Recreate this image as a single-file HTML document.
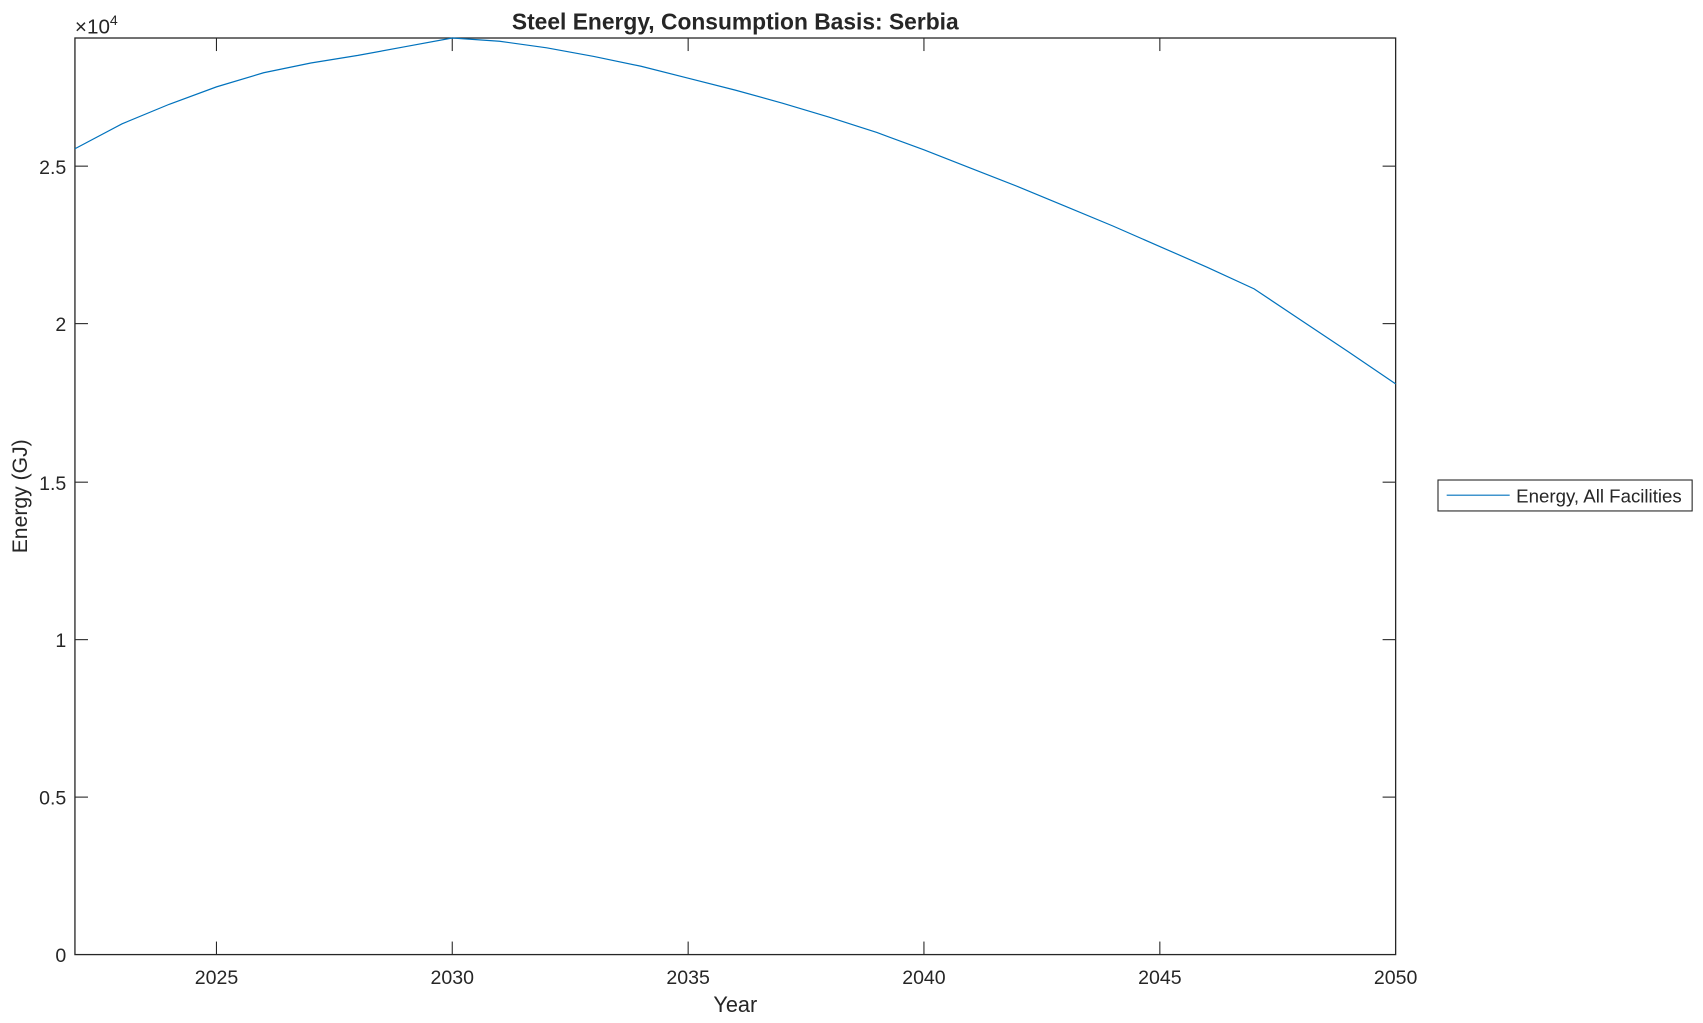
<!DOCTYPE html>
<html><head><meta charset="utf-8"><style>
html,body{margin:0;padding:0;background:#fff;}
svg{display:block;}
text{font-family:"Liberation Sans",Arial,sans-serif;fill:#262626;}
</style></head><body>
<svg width="1703" height="1023" viewBox="0 0 1568 942" preserveAspectRatio="none" xmlns="http://www.w3.org/2000/svg">
<rect width="1568" height="942" fill="#fff"/>
<rect x="69" y="35" width="1216" height="844" fill="#fff" stroke="#262626" stroke-width="1.2"/>
<g stroke="#262626" stroke-width="1">
<line x1="199.3" y1="879" x2="199.3" y2="867"/><line x1="199.3" y1="35" x2="199.3" y2="47"/>
<line x1="416.4" y1="879" x2="416.4" y2="867"/><line x1="416.4" y1="35" x2="416.4" y2="47"/>
<line x1="633.6" y1="879" x2="633.6" y2="867"/><line x1="633.6" y1="35" x2="633.6" y2="47"/>
<line x1="850.7" y1="879" x2="850.7" y2="867"/><line x1="850.7" y1="35" x2="850.7" y2="47"/>
<line x1="1067.9" y1="879" x2="1067.9" y2="867"/><line x1="1067.9" y1="35" x2="1067.9" y2="47"/>
<line x1="69" y1="734" x2="81" y2="734"/><line x1="1285" y1="734" x2="1273" y2="734"/>
<line x1="69" y1="589" x2="81" y2="589"/><line x1="1285" y1="589" x2="1273" y2="589"/>
<line x1="69" y1="444" x2="81" y2="444"/><line x1="1285" y1="444" x2="1273" y2="444"/>
<line x1="69" y1="298" x2="81" y2="298"/><line x1="1285" y1="298" x2="1273" y2="298"/>
<line x1="69" y1="153" x2="81" y2="153"/><line x1="1285" y1="153" x2="1273" y2="153"/>
</g>
<polyline fill="none" stroke="#0072bd" stroke-width="1.1" points="69,137 112.4,114 155.9,96 199.3,80 242.7,67 286.2,58 329.6,51 373,43 416.4,35 459.9,38 503.3,44 546.7,52 590.2,61 633.6,72 677,83 720.4,95 763.9,108 807.3,122 850.7,138 894.1,155 937.6,172 981,190 1024.4,208 1067.9,227 1111.3,246 1154.7,266 1198.1,295 1241.6,324 1285,353.5"/>
<g font-size="18" text-anchor="middle">
<text x="199.3" y="906">2025</text><text x="416.4" y="906">2030</text><text x="633.6" y="906">2035</text>
<text x="850.7" y="906">2040</text><text x="1067.9" y="906">2045</text><text x="1285" y="906">2050</text>
</g>
<g font-size="18" text-anchor="end">
<text x="61" y="886">0</text><text x="61" y="741">0.5</text><text x="61" y="596">1</text>
<text x="61" y="451">1.5</text><text x="61" y="305">2</text><text x="61" y="160">2.5</text>
</g>
<text x="69" y="31" font-size="19">×10<tspan font-size="13" dy="-8">4</tspan></text>
<text x="677" y="932" font-size="20" text-anchor="middle">Year</text>
<text transform="translate(25,457) rotate(-90)" font-size="19.5" text-anchor="middle">Energy (GJ)</text>
<text x="677" y="27" font-size="21" font-weight="bold" text-anchor="middle" fill="#000">Steel Energy, Consumption Basis: Serbia</text>
<rect x="1324" y="442" width="234" height="28.5" fill="#fff" stroke="#262626" stroke-width="1"/>
<line x1="1332" y1="456" x2="1390" y2="456" stroke="#0072bd" stroke-width="1.1"/>
<text x="1396" y="462.5" font-size="17.2" fill="#000">Energy, All Facilities</text>
</svg>
</body></html>
